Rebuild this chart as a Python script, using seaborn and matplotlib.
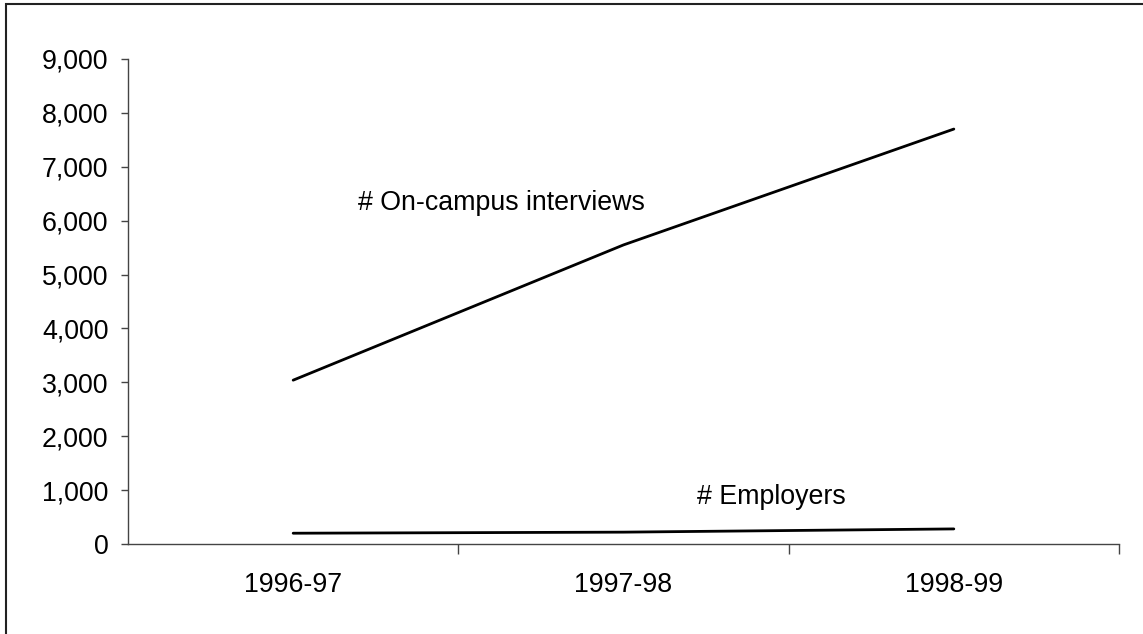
import matplotlib
matplotlib.use("Agg")
import matplotlib.pyplot as plt
from matplotlib.patches import Rectangle
from matplotlib.ticker import FuncFormatter, FixedLocator
import seaborn as sns
import pandas as pd

# Data
years = ["1996-97", "1997-98", "1998-99"]
interviews = [3040, 5550, 7700]
employers = [200, 220, 280]
series_names = ["# On-campus interviews", "# Employers"]

sns.set_style("white")
plt.rcParams["font.family"] = ["Liberation Sans", "DejaVu Sans"]
plt.rcParams["text.color"] = "black"
plt.rcParams["xtick.color"] = "black"
plt.rcParams["ytick.color"] = "black"

FS = 19.3

df = pd.DataFrame({
    "year": years * 2,
    "pos": list(range(len(years))) * 2,
    "value": interviews + employers,
    "series": [series_names[0]] * len(years) + [series_names[1]] * len(years),
})

fig = plt.figure(figsize=(11.43, 6.34), dpi=100)
ax = fig.add_axes([128 / 1143, 1 - 544 / 634, (1119 - 128) / 1143, (544 - 59) / 634])

sns.lineplot(data=df, x="pos", y="value", hue="series",
             palette=["black", "black"], linewidth=2.0, legend=False, ax=ax)

ax.set_xlim(-0.5, len(years) - 0.5)
ax.set_ylim(0, 9000)
ax.set_yticks(range(0, 9001, 1000))
ax.yaxis.set_major_formatter(FuncFormatter(lambda v, p: f"{int(v):,}"))
ax.set_xticks(range(len(years)))
ax.set_xticklabels(years)
ax.xaxis.set_minor_locator(FixedLocator([i + 0.5 for i in range(len(years))]))
ax.set_xlabel("")
ax.set_ylabel("")

for s in ["top", "right"]:
    ax.spines[s].set_visible(False)
for s in ["left", "bottom"]:
    ax.spines[s].set_color("#444444")
    ax.spines[s].set_linewidth(1.0)

ax.tick_params(axis="y", which="major", direction="out", length=5, width=1,
               color="#444444", labelcolor="black", pad=9, labelsize=FS, left=True)
ax.tick_params(axis="x", which="major", length=0, pad=20, labelsize=FS,
               labelcolor="black")
ax.tick_params(axis="x", which="minor", direction="out", length=7, width=1,
               color="#444444", bottom=True)

ax.text(0.197, 6330, series_names[0], ha="left", va="center", fontsize=FS,
        color="black")
ax.text(1.224, 880, series_names[1], ha="left", va="center", fontsize=FS,
        color="black")

# Outer frame around the chart area
fig.add_artist(Rectangle((6 / 1143, -0.05), 1.2, 0.05 + 1 - 4 / 634,
                         transform=fig.transFigure, fill=False,
                         edgecolor="#222222", linewidth=1.5))

fig.savefig("out.png", dpi=100)
